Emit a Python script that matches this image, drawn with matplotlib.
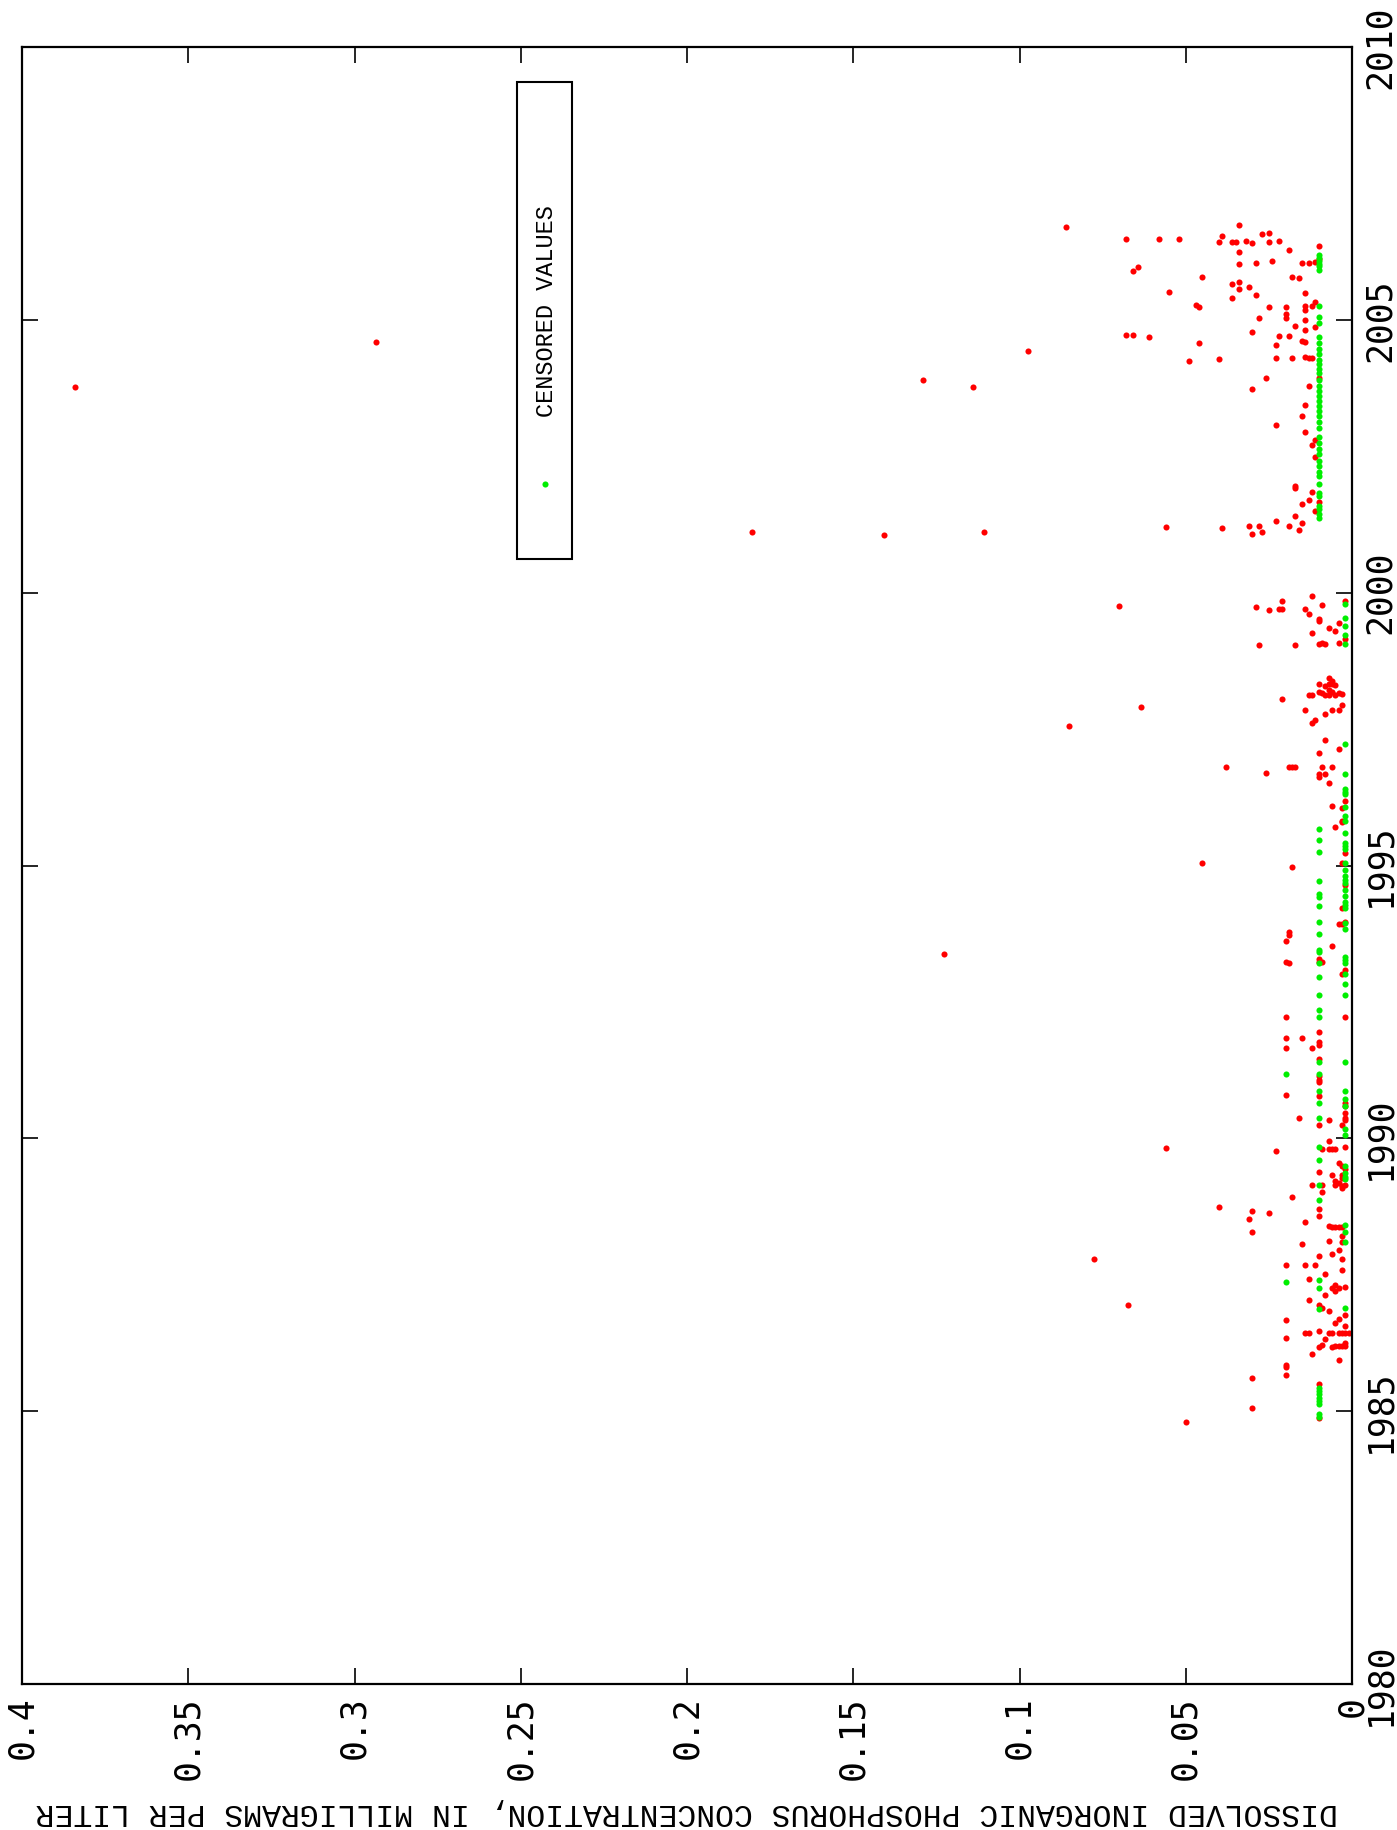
import numpy as np
import matplotlib
matplotlib.use('Agg')
import matplotlib.pyplot as plt
from matplotlib.patches import Rectangle

# detected values, (year, concentration mg/L)
detected_2001_2007 = [
    (2006.73, 0.034), (2006.53, 0.039), (2006.42, 0.040), (2006.42, 0.036), (2006.42, 0.035),
    (2006.45, 0.032), (2006.41, 0.030), (2006.57, 0.027), (2006.60, 0.025), (2006.42, 0.025),
    (2006.44, 0.022), (2006.28, 0.019), (2006.36, 0.010), (2006.24, 0.034), (2006.03, 0.034),
    (2006.05, 0.029), (2006.08, 0.024), (2006.05, 0.015), (2006.05, 0.013), (2006.06, 0.011),
    (2006.12, 0.010), (2005.78, 0.045), (2005.65, 0.036), (2005.70, 0.034), (2005.57, 0.034),
    (2005.61, 0.031), (2005.45, 0.029), (2005.40, 0.036), (2005.78, 0.018), (2005.77, 0.016),
    (2005.49, 0.014), (2005.28, 0.047), (2005.24, 0.046), (2005.24, 0.025), (2005.24, 0.020),
    (2005.26, 0.014), (2005.18, 0.014), (2005.26, 0.012), (2005.32, 0.011), (2005.04, 0.028),
    (2005.11, 0.020), (2005.04, 0.020), (2004.99, 0.014), (2004.88, 0.017), (2004.87, 0.011),
    (2004.82, 0.014), (2004.78, 0.030), (2004.71, 0.022), (2004.71, 0.019), (2004.57, 0.046),
    (2004.53, 0.023), (2004.62, 0.015), (2004.59, 0.014), (2004.24, 0.049), (2004.29, 0.040),
    (2004.30, 0.023), (2004.30, 0.018), (2004.32, 0.014), (2004.30, 0.013), (2004.30, 0.012),
    (2003.94, 0.026), (2003.94, 0.010), (2003.78, 0.013), (2003.74, 0.030), (2003.44, 0.014),
    (2003.23, 0.015), (2003.08, 0.023), (2002.95, 0.014), (2002.80, 0.011), (2002.70, 0.012),
    (2002.49, 0.011), (2001.95, 0.017), (2001.91, 0.017), (2001.85, 0.012), (2001.70, 0.013),
    (2001.62, 0.015), (2001.66, 0.010), (2001.49, 0.011), (2001.19, 0.039), (2001.23, 0.031),
    (2001.07, 0.030), (2001.22, 0.028), (2001.11, 0.027), (2001.32, 0.023), (2001.23, 0.019),
    (2001.40, 0.017), (2001.15, 0.016), (2001.28, 0.015),
    (2003.76, 0.384), (2004.59, 0.2935), (2001.11, 0.1805), (2001.05, 0.1409), (2001.11, 0.1108),
    (2003.89, 0.129), (2003.76, 0.114), (2004.42, 0.0975), (2006.70, 0.086), (2006.49, 0.068),
    (2005.90, 0.066), (2005.97, 0.0645), (2004.72, 0.068), (2004.73, 0.066), (2004.69, 0.061),
    (2006.48, 0.058), (2006.48, 0.052), (2005.51, 0.055), (2001.20, 0.056),
]

detected_1993_2000 = [
    (1999.94, 0.012), (1999.84, 0.021), (1999.73, 0.029), (1999.69, 0.025), (1999.70, 0.022),
    (1999.70, 0.021), (1999.70, 0.014), (1999.61, 0.013), (1999.77, 0.009), (1999.85, 0.002),
    (1999.51, 0.010), (1999.48, 0.010), (1999.35, 0.007), (1999.44, 0.004), (1999.29, 0.005),
    (1999.27, 0.012), (1999.15, 0.002), (1999.05, 0.028), (1999.05, 0.017), (1999.06, 0.010),
    (1999.07, 0.009), (1999.06, 0.008), (1999.07, 0.004), (1998.43, 0.007), (1998.39, 0.006),
    (1998.32, 0.010), (1998.29, 0.008), (1998.32, 0.007), (1998.32, 0.006), (1998.30, 0.005),
    (1998.18, 0.010), (1998.16, 0.009), (1998.13, 0.008), (1998.21, 0.007), (1998.18, 0.006),
    (1998.13, 0.005), (1998.17, 0.004), (1998.14, 0.003), (1998.13, 0.007), (1998.13, 0.013),
    (1998.13, 0.012), (1998.05, 0.021), (1997.95, 0.003), (1997.85, 0.014), (1997.85, 0.006),
    (1997.85, 0.004), (1997.78, 0.008), (1997.67, 0.011), (1997.61, 0.012), (1997.30, 0.008),
    (1997.13, 0.004), (1997.06, 0.010), (1996.80, 0.038), (1996.81, 0.019), (1996.81, 0.018),
    (1996.81, 0.017), (1996.81, 0.009), (1996.80, 0.006), (1996.69, 0.026), (1996.68, 0.010),
    (1996.62, 0.010), (1996.68, 0.008), (1996.51, 0.007), (1996.19, 0.002), (1996.09, 0.006),
    (1996.05, 0.003), (1995.82, 0.003), (1995.79, 0.003), (1995.70, 0.005), (1995.23, 0.002),
    (1995.05, 0.045), (1994.98, 0.018), (1995.05, 0.003), (1994.65, 0.002), (1994.22, 0.003),
    (1993.92, 0.004), (1993.92, 0.003), (1993.97, 0.002), (1993.79, 0.019), (1993.72, 0.019),
    (1993.62, 0.020), (1993.53, 0.006), (1993.24, 0.020), (1993.22, 0.019), (1993.29, 0.010),
    (1993.24, 0.010), (1993.23, 0.009), (1993.01, 0.003), (1993.08, 0.002),
    (1993.37, 0.1227), (1997.56, 0.085), (1997.91, 0.0635), (1999.76, 0.070),
]

detected_1984_1992 = [
    (1992.23, 0.020), (1992.23, 0.002), (1991.84, 0.020), (1991.84, 0.015), (1991.94, 0.010),
    (1991.77, 0.010), (1991.71, 0.010), (1991.65, 0.012), (1991.65, 0.020), (1991.46, 0.010),
    (1991.14, 0.010), (1991.07, 0.010), (1991.03, 0.010), (1990.79, 0.020), (1990.78, 0.010),
    (1990.65, 0.002), (1990.59, 0.002), (1990.46, 0.002), (1990.37, 0.002), (1990.34, 0.002),
    (1990.25, 0.003), (1990.38, 0.016), (1990.33, 0.007), (1990.24, 0.010), (1989.95, 0.007),
    (1989.85, 0.002), (1989.80, 0.009), (1989.80, 0.007), (1989.80, 0.006), (1989.80, 0.005),
    (1989.77, 0.023), (1989.55, 0.004), (1989.49, 0.003), (1989.43, 0.002), (1989.33, 0.003),
    (1989.33, 0.006), (1989.39, 0.010), (1989.27, 0.003), (1989.21, 0.005), (1989.18, 0.004),
    (1989.15, 0.005), (1989.13, 0.003), (1989.15, 0.002), (1989.09, 0.003), (1989.15, 0.012),
    (1989.15, 0.009), (1989.01, 0.009), (1988.93, 0.018), (1988.75, 0.040), (1988.66, 0.030),
    (1988.63, 0.025), (1988.52, 0.031), (1988.47, 0.014), (1988.71, 0.010), (1988.57, 0.010),
    (1988.28, 0.030), (1988.40, 0.007), (1988.38, 0.006), (1988.38, 0.005), (1988.38, 0.004),
    (1988.38, 0.003), (1988.21, 0.003), (1988.10, 0.003), (1988.11, 0.007), (1988.07, 0.015),
    (1987.95, 0.004), (1987.88, 0.006), (1987.84, 0.010), (1987.78, 0.003), (1987.68, 0.020),
    (1987.68, 0.014), (1987.68, 0.011), (1987.59, 0.003), (1987.51, 0.008), (1987.43, 0.013),
    (1987.26, 0.006), (1987.31, 0.005), (1987.21, 0.005), (1987.26, 0.004), (1987.27, 0.002),
    (1987.12, 0.008), (1987.03, 0.013), (1986.95, 0.010), (1986.89, 0.009), (1986.84, 0.007),
    (1986.67, 0.020), (1986.69, 0.004), (1986.61, 0.005), (1986.76, 0.002), (1986.56, 0.002),
    (1986.44, 0.014), (1986.43, 0.013), (1986.47, 0.010), (1986.43, 0.007), (1986.43, 0.006),
    (1986.43, 0.004), (1986.43, 0.003), (1986.43, 0.002), (1986.43, 0.001), (1986.34, 0.020),
    (1986.33, 0.008), (1986.21, 0.009), (1986.17, 0.010), (1986.17, 0.006), (1986.20, 0.005),
    (1986.20, 0.004), (1986.20, 0.003), (1986.20, 0.002), (1986.25, 0.002), (1986.04, 0.012),
    (1985.94, 0.004), (1985.85, 0.020), (1985.81, 0.020), (1985.67, 0.020), (1985.60, 0.030),
    (1985.50, 0.010), (1985.05, 0.030), (1984.87, 0.010), (1984.81, 0.050),
    (1987.78, 0.0775), (1986.95, 0.0674), (1989.82, 0.0558),
]

# censored values (less than reporting level)
censored_010_years = [
    2006.19, 2006.14, 2006.08, 2006.03, 2005.98, 2005.92, 2005.26, 2005.05, 2004.95, 2004.69,
    2004.58, 2004.47, 2004.37, 2004.27, 2004.19, 2004.10, 2004.02, 2003.90, 2003.79, 2003.70,
    2003.61, 2003.52, 2003.42, 2003.33, 2003.24, 2003.12, 2003.01, 2002.86, 2002.75, 2002.64,
    2002.54, 2002.42, 2002.32, 2002.21, 2002.13, 2001.99, 2001.83, 2001.78, 2001.59, 2001.53,
    2001.44, 2001.36,
    1995.67, 1995.46, 1995.24, 1994.71, 1994.48, 1994.43, 1994.25, 1993.96, 1993.74, 1993.45,
    1993.41, 1993.22, 1992.96, 1992.62,
    1992.36, 1992.23, 1991.40, 1991.17, 1990.86, 1990.65, 1990.38, 1989.85, 1989.60, 1989.15,
    1988.87, 1987.40, 1987.26, 1986.88, 1985.43, 1985.37, 1985.31, 1985.24, 1985.18, 1985.14,
    1984.94, 1984.90,
]
censored_002_years = [
    1999.80, 1999.54, 1999.39, 1999.22, 1999.06, 1997.22, 1996.68, 1996.40, 1996.34, 1996.31,
    1996.07, 1995.90, 1995.81, 1995.59, 1995.41, 1995.35, 1995.30, 1995.05, 1994.91, 1994.80,
    1994.74, 1994.68, 1994.55, 1994.44, 1994.34, 1994.28, 1994.22, 1993.94, 1993.83, 1993.33,
    1993.27, 1993.21, 1993.01, 1992.83, 1992.62,
    1991.40, 1990.86, 1990.72, 1990.60, 1990.18, 1990.07, 1989.49, 1989.37, 1989.30, 1989.26,
    1988.42, 1988.28, 1988.10, 1986.89,
]
censored_020_years = [1991.18, 1987.37]

conc_ticks = [0, 0.05, 0.1, 0.15, 0.2, 0.25, 0.3, 0.35, 0.4]
conc_labels = ['0', '0.05', '0.1', '0.15', '0.2', '0.25', '0.3', '0.35', '0.4']
year_ticks = [1980, 1985, 1990, 1995, 2000, 2005, 2010]

RED = '#ff0000'
GREEN = '#00ee00'

detected = detected_1984_1992 + detected_1993_2000 + detected_2001_2007
det_year = np.array([d[0] for d in detected])
det_conc = np.array([d[1] for d in detected])

cen_year = np.array(censored_010_years + censored_002_years + censored_020_years)
cen_conc = np.array([0.010] * len(censored_010_years) + [0.002] * len(censored_002_years)
                    + [0.020] * len(censored_020_years))

W, H = 1397, 1830
fig = plt.figure(figsize=(W / 100, H / 100), dpi=100)
ax = fig.add_axes([22 / W, (H - 1684) / H, 1330 / W, 1637 / H])

ax.plot(det_conc, det_year, 'o', color=RED, ms=4.4, mew=0, linestyle='none')
ax.plot(cen_conc, cen_year, 'o', color=GREEN, ms=4.4, mew=0, linestyle='none')

ax.set_xlim(0.4, 0)
ax.set_ylim(1980, 2010)
ax.set_xticks(conc_ticks)
ax.set_xticklabels(conc_labels, rotation=90, family='DejaVu Sans Mono', fontsize=25)
ax.set_yticks(year_ticks)
ax.set_yticklabels([str(y) for y in year_ticks], rotation=90, family='DejaVu Sans Mono',
                   fontsize=25, va='center')

ax.tick_params(axis='x', direction='in', length=11.5, width=1.2, top=True, bottom=True, pad=9)
ax.tick_params(axis='y', direction='in', length=11.5, width=1.2, left=True, right=True,
               labelleft=False, labelright=True, pad=8)
for s in ax.spines.values():
    s.set_linewidth(1.6)

ax.set_xlabel('DISSOLVED INORGANIC PHOSPHORUS CONCENTRATION, IN MILLIGRAMS PER LITER',
              rotation=180, family='Liberation Mono', fontsize=22.7, va='center', ha='center')
ax.xaxis.set_label_coords(0.5, -0.078)

# legend box drawn by hand so it can be turned with the plot
ax.add_patch(Rectangle((0.3722, 0.687), 0.0413, 0.2916, transform=ax.transAxes,
                       fill=False, lw=1.5, edgecolor='black'))
ax.plot([0.393], [0.733], 'o', color=GREEN, ms=4.4, mew=0, transform=ax.transAxes)
ax.text(0.394, 0.8387, 'CENSORED VALUES', rotation=90, ha='center', va='center',
        transform=ax.transAxes, family='Liberation Mono', fontsize=17)

fig.savefig('out.png', dpi=100)
